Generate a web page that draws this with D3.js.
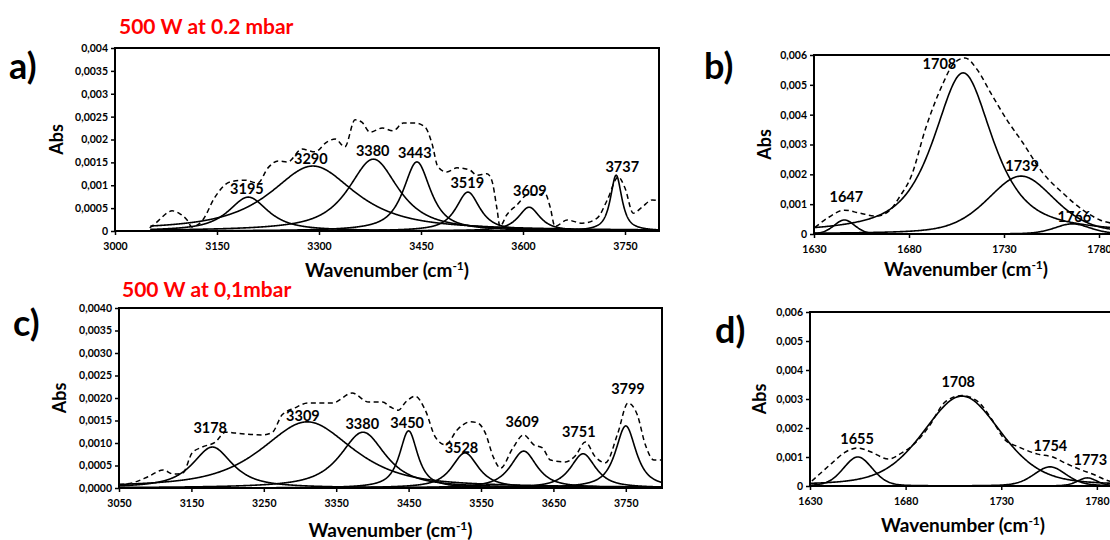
<!DOCTYPE html>
<html>
<head>
<meta charset="utf-8">
<script src="https://cdn.jsdelivr.net/npm/d3@7"></script>
<style>
  body { margin: 0; background: #fff; }
  svg text { font-family: Lato, "Open Sans", sans-serif; }
</style>
</head>
<body>
<svg id="chart" width="1110" height="540"></svg>
<script>
// ---- data ----
// titles
const titleTop = "500 W at 0.2 mbar";
const titleBottom = "500 W at 0,1mbar";

// tick values and labels
const xTicksA = [3000, 3150, 3300, 3450, 3600, 3750];
const xTicksC = [3050, 3150, 3250, 3350, 3450, 3550, 3650, 3750];
const xTicksBD = [1630, 1680, 1730, 1780];
const yTicksA = [0, 0.0005, 0.001, 0.0015, 0.002, 0.0025, 0.003, 0.0035, 0.004];
const yLabelsA = ["0", "0,0005", "0,001", "0,0015", "0,002", "0,0025", "0,003", "0,0035", "0,004"];
const yTicksC = [0, 0.0005, 0.001, 0.0015, 0.002, 0.0025, 0.003, 0.0035, 0.004];
const yLabelsC = ["0,0000", "0,0005", "0,0010", "0,0015", "0,0020", "0,0025", "0,0030", "0,0035", "0,0040"];
const yTicksBD = [0, 0.001, 0.002, 0.003, 0.004, 0.005, 0.006];
const yLabelsBD = ["0", "0,001", "0,002", "0,003", "0,004", "0,005", "0,006"];

// fitted components: [centre (cm-1), height (Abs), FWHM (cm-1), lorentz fraction]
const peaksA = [[3196, 0.00074, 70, 0.85], [3291, 0.00142, 150, 0.85], [3380, 0.00157, 88, 0.85],
                [3444, 0.00151, 48, 0.85], [3519, 0.00085, 42, 0.85], [3609, 0.00052, 38, 0.85],
                [3737, 0.00122, 20, 0.85]];
const peaksB = [[1646, 0.00047, 13, 0.2], [1708.5, 0.0054, 37, 0.75], [1739, 0.00194, 42, 0.4],
                [1766, 0.00034, 22, 0.3]];
const peaksC = [[3179, 0.00091, 66, 0.85], [3310, 0.00147, 150, 0.7], [3387, 0.00124, 75, 0.85],
                [3450, 0.00127, 30, 0.85], [3528, 0.00078, 44, 0.85], [3609, 0.00082, 44, 0.85],
                [3691, 0.00076, 42, 0.85], [3750, 0.00138, 34, 0.85]];
const peaksD = [[1655, 0.001, 18, 0.2], [1709.5, 0.0031, 48, 0.35], [1755.5, 0.00066, 20, 0.3],
                [1775, 0.00028, 12, 0.3]];

// measured spectra (dashed): [wavenumber, Abs]
const spectrumA = [[3051,0.00007],[3062,0.0002],[3069,0.0003],[3077,0.0004],[3084,0.00044],[3095,0.00038],
  [3106,0.00024],[3113,0.00009],[3120,0.00012],[3129,0.00024],[3147,0.00074],[3169,0.00107],[3191,0.00111],
  [3210,0.00105],[3225,0.00138],[3240,0.00153],[3254,0.00151],[3275,0.00179],[3294,0.00173],[3312,0.00195],
  [3324,0.00201],[3338,0.00184],[3353,0.00243],[3363,0.00238],[3375,0.00216],[3393,0.00225],[3409,0.00219],
  [3424,0.00236],[3441,0.00236],[3456,0.00227],[3466,0.00192],[3475,0.0014],[3488,0.00129],[3503,0.00138],
  [3522,0.00133],[3532,0.00122],[3547,0.00125],[3554,0.00111],[3562,0.00046],[3566,0.0001],[3576,0.00035],
  [3591,0.00057],[3607,0.00079],[3622,0.00079],[3632,0.00083],[3640,0.00052],[3647,0.0001],[3665,0.00024],
  [3687,0.00017],[3709,0.00028],[3724,0.00068],[3740,0.00118],[3750,0.00094],[3762,0.00039],[3775,0.00052],
  [3790,0.00068],[3800,0.00066]];
const spectrumB = [[1630.5,0.00022],[1638,0.00057],[1646,0.0008],[1654,0.0007],[1663,0.0006],[1670,0.0008],
  [1675,0.00124],[1681,0.00191],[1689,0.00359],[1698,0.00506],[1703,0.00567],[1709.5,0.0059],[1716,0.0055],
  [1723,0.00473],[1731.6,0.00382],[1740,0.00305],[1750.5,0.00204],[1761,0.00137],[1771.6,0.0008],
  [1780.5,0.00047],[1790,0.00033]];
const spectrumC = [[3050,0.00007],[3072,0.00013],[3090,0.00025],[3111,0.0004],[3125,0.00031],[3138,0.00033],
  [3151,0.00078],[3165,0.00091],[3183,0.00102],[3197,0.00124],[3211,0.00122],[3248,0.00118],[3262,0.00124],
  [3275,0.00162],[3293,0.00178],[3311,0.00189],[3345,0.00189],[3372,0.00211],[3395,0.00191],[3414,0.00191],
  [3425,0.0018],[3436,0.00173],[3446,0.00191],[3459,0.00204],[3473,0.00173],[3487,0.00113],[3501,0.00096],
  [3517,0.00129],[3535,0.00147],[3545,0.00145],[3556,0.00122],[3567,0.00069],[3577,0.00044],[3594,0.00089],
  [3609,0.00118],[3623,0.00096],[3635,0.00089],[3646,0.00062],[3667,0.00058],[3681,0.00073],[3694,0.00102],
  [3708,0.00069],[3722,0.00056],[3739,0.00122],[3753,0.00189],[3766,0.00162],[3777,0.00096],[3789,0.00062],
  [3800,0.00062]];
const spectrumD = [[1631,0.00017],[1641.5,0.00079],[1648,0.00115],[1655,0.00131],[1662,0.00117],[1671,0.00093],
  [1678,0.00114],[1685,0.00148],[1692,0.00203],[1700.7,0.0029],[1709.5,0.00312],[1718,0.0029],[1725,0.0023],
  [1732,0.00159],[1739,0.00135],[1749,0.0011],[1757,0.001],[1763.5,0.00079],[1772,0.00055],[1779,0.00038],
  [1785,0.0002],[1790,0.00012]];

// peak labels and their anchor in data units
const labelsA = ["3195", "3290", "3380", "3443", "3519", "3609", "3737"];
const labelAtA = [[3194,0.00081],[3288,0.00146],[3379,0.00164],[3441,0.0016],[3518,0.00094],[3610,0.00077],[3746,0.00129]];
const labelsB = ["1647", "1708", "1739", "1766"];
const labelAtB = [[1647,0.00107],[1696,0.00553],[1739.5,0.00211],[1767,0.0004]];
const labelsC = ["3178", "3309", "3380", "3450", "3528", "3609", "3751", "3799"];
const labelAtC = [[3176,0.00122],[3304,0.00149],[3386,0.00131],[3448,0.00133],[3523,0.00078],[3607,0.00136],[3685,0.00113],[3753,0.00209]];
const labelsD = ["1655", "1708", "1754", "1773"];
const labelAtD = [[1654.6,0.00145],[1707.5,0.00341],[1755.7,0.00121],[1776.6,0.00072]];

// ---- drawing ----
const svg = d3.select("#chart");

const panels = [
  {key: "a", box: [115, 48, 659, 231], xd: [3000, 3800], start: 3052, xt: xTicksA, yd: [0, 0.004], yt: yTicksA, yl: yLabelsA,
   peaks: peaksA, spec: spectrumA, labels: labelsA, labelAt: labelAtA, letter: [9, 79], abs: 57, xlab: 277},
  {key: "b", box: [814, 55, 1118, 234], xd: [1630, 1790], start: 1630, xt: xTicksBD, yd: [0, 0.006], yt: yTicksBD, yl: yLabelsBD,
   peaks: peaksB, spec: spectrumB, labels: labelsB, labelAt: labelAtB, letter: [704, 79], abs: 765, xlab: 276},
  {key: "c", box: [119, 308, 662, 488], xd: [3050, 3800], start: 3050, xt: xTicksC, yd: [0, 0.004], yt: yTicksC, yl: yLabelsC,
   peaks: peaksC, spec: spectrumC, labels: labelsC, labelAt: labelAtC, letter: [13, 336], abs: 60, xlab: 537},
  {key: "d", box: [810, 312, 1116, 486], xd: [1630, 1790], start: 1630, xt: xTicksBD, yd: [0, 0.006], yt: yTicksBD, yl: yLabelsBD,
   peaks: peaksD, spec: spectrumD, labels: labelsD, labelAt: labelAtD, letter: [715, 343], abs: 760, xlab: 532}
];

// pseudo-Voigt profile of one fitted band
function profile(v, p) {
  const t = (v - p[0]) / (p[2] / 2);
  return p[1] * (p[3] / (1 + t * t) + (1 - p[3]) * Math.exp(-Math.LN2 * t * t));
}

panels.forEach(P => {
  const [l, t, r, b] = P.box;
  const x = d3.scaleLinear().domain(P.xd).range([l, r]);
  const y = d3.scaleLinear().domain(P.yd).range([b, t]);

  svg.append("clipPath").attr("id", "clip-" + P.key)
    .append("rect").attr("x", l).attr("y", t).attr("width", r - l).attr("height", b - t);

  const g = svg.append("g").attr("clip-path", `url(#clip-${P.key})`);

  // fitted bands
  const grid = d3.range(P.start, P.xd[1] + 0.5, 0.5);
  const line = d3.line().x(d => x(d[0])).y(d => y(d[1]));
  P.peaks.forEach(p => {
    g.append("path")
      .attr("d", line(grid.map(v => [v, profile(v, p)])))
      .attr("fill", "none")
      .attr("stroke", "#000")
      .attr("stroke-width", 1.6);
  });

  // measured spectrum
  g.append("path")
    .attr("d", line.curve(d3.curveMonotoneX)(P.spec))
    .attr("fill", "none")
    .attr("stroke", "#000")
    .attr("stroke-width", 1.5)
    .attr("stroke-dasharray", "5,3.5");

  // plot box
  svg.append("rect")
    .attr("x", l).attr("y", t).attr("width", r - l).attr("height", b - t)
    .attr("fill", "none").attr("stroke", "#000").attr("stroke-width", 2);

  // axes
  const yAxis = svg.append("g").attr("transform", `translate(${l},0)`)
    .call(d3.axisLeft(y).tickValues(P.yt).tickFormat((d, i) => P.yl[i]).tickSize(4).tickPadding(3));
  const xAxis = svg.append("g").attr("transform", `translate(0,${b})`)
    .call(d3.axisBottom(x).tickValues(P.xt).tickFormat(d => d).tickSize(4).tickPadding(8));
  [xAxis, yAxis].forEach(a => {
    a.select(".domain").remove();
    a.selectAll("line").attr("stroke-width", 1.5);
    a.selectAll("text").attr("font-family", "Lato, sans-serif").attr("font-weight", "bold").attr("font-size", 10.5);
  });

  // peak labels
  svg.append("g").selectAll("text")
    .data(P.labels)
    .join("text")
    .attr("x", (d, i) => x(P.labelAt[i][0]))
    .attr("y", (d, i) => y(P.labelAt[i][1]))
    .attr("text-anchor", "middle")
    .attr("font-size", 14.5)
    .attr("font-weight", "bold")
    .text(d => d);

  // panel letter
  svg.append("text")
    .attr("x", P.letter[0]).attr("y", P.letter[1])
    .attr("font-size", 36).attr("font-weight", "bold")
    .text(P.key + ")");

  // y axis title
  svg.append("text")
    .attr("transform", `translate(${P.abs + 6},${(t + b) / 2}) rotate(-90)`)
    .attr("text-anchor", "middle")
    .attr("font-size", 18).attr("font-weight", "bold")
    .text("Abs");

  // x axis title
  const xt = svg.append("text")
    .attr("x", (l + r) / 2).attr("y", P.xlab)
    .attr("text-anchor", "middle")
    .attr("font-size", 19).attr("font-weight", "bold");
  xt.append("tspan").text("Wavenumber (cm");
  xt.append("tspan").attr("dy", -7).attr("font-size", 12).text("-1");
  xt.append("tspan").attr("dy", 7).text(")");
});

// red titles
svg.append("text").attr("x", 119).attr("y", 34)
  .attr("font-size", 21).attr("font-weight", "bold").attr("fill", "#ff0000")
  .text(titleTop);
svg.append("text").attr("x", 122).attr("y", 297)
  .attr("font-size", 21).attr("font-weight", "bold").attr("fill", "#ff0000")
  .text(titleBottom);
</script>
</body>
</html>
